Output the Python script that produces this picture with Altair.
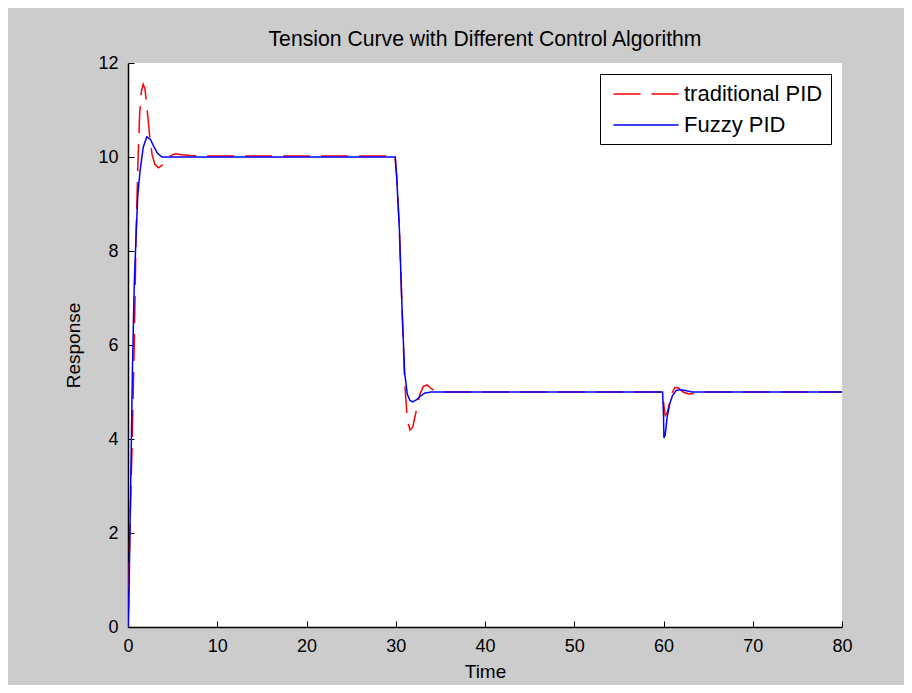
import altair as alt
import pandas as pd

# ---- data ----
t_pid = [0, 0.2, 0.45, 0.7, 0.9, 1.1, 1.3, 1.5, 1.7, 1.9, 2.1, 2.4, 2.7, 3.0, 3.4, 3.8, 4.2,
         4.7, 5.3, 6.0, 7.0, 10, 15, 20, 25, 29.9, 30.1, 30.4, 30.7, 31.0, 31.3, 31.6, 31.9,
         32.3, 32.7, 33.1, 33.5, 34.0, 34.6, 40, 50, 59.9, 60.05, 60.2, 60.4, 60.7, 61.0,
         61.3, 61.7, 62.2, 62.8, 63.5, 64.2, 70, 80]
y_pid = [0, 2.0, 3.8, 6.0, 8.3, 9.8, 10.9, 11.4, 11.55, 11.45, 11.1, 10.5, 10.05, 9.85, 9.77,
         9.82, 9.93, 10.02, 10.07, 10.05, 10.03, 10.02, 10.02, 10.02, 10.02, 10.02, 9.6, 8.5,
         6.8, 5.2, 4.4, 4.19, 4.25, 4.6, 4.95, 5.12, 5.15, 5.07, 5.0, 5.0, 5.0, 5.0, 4.7, 4.5,
         4.55, 4.78, 5.0, 5.1, 5.08, 5.0, 4.96, 4.97, 5.0, 5.0, 5.0]

t_fuzzy = [0, 0.1, 0.3, 0.5, 0.7, 0.9, 1.1, 1.35, 1.7, 2.1, 2.5, 2.9, 3.3, 3.8, 5, 10, 20,
           29.95, 30.1, 30.4, 30.7, 31.0, 31.3, 31.6, 31.9, 32.3, 32.8, 33.3, 34.0, 40, 50,
           59.9, 60.0, 60.05, 60.2, 60.4, 60.7, 61.0, 61.4, 61.8, 62.5, 63.2, 70, 80]
y_fuzzy = [0, 0.6, 3.0, 5.5, 7.3, 8.3, 9.2, 9.7, 10.2, 10.43, 10.38, 10.22, 10.08, 10.0, 10.0,
           10.0, 10.0, 10.0, 9.6, 8.5, 6.8, 5.4, 4.95, 4.82, 4.79, 4.83, 4.92, 4.98, 5.0, 5.0,
           5.0, 5.0, 4.5, 4.02, 4.1, 4.45, 4.75, 4.92, 5.03, 5.05, 5.03, 5.0, 5.0, 5.0]

series_names = ["traditional PID", "Fuzzy PID"]
series_colors = ["#FF0000", "#0000FF"]
x_ticks = [0, 10, 20, 30, 40, 50, 60, 70, 80]
y_ticks = [0, 2, 4, 6, 8, 10, 12]

df_pid = pd.DataFrame({"Time": t_pid, "Response": y_pid, "series": series_names[0]})
df_fuzzy = pd.DataFrame({"Time": t_fuzzy, "Response": y_fuzzy, "series": series_names[1]})
df_all = pd.concat([df_pid, df_fuzzy], ignore_index=True)

FONT = "Liberation Sans"
x_scale = alt.Scale(domain=[0, 80], nice=False, zero=False)
y_scale = alt.Scale(domain=[0, 12], nice=False, zero=False)

legend_def = alt.Legend(
    title=None, orient="top-right", offset=11, fillColor="white",
    strokeColor="black", padding=8, labelFontSize=22, labelFont=FONT,
    labelColor="black", symbolType="M-0.6,0H5.4", symbolSize=470,
    symbolStrokeWidth=1.5, rowPadding=8, labelOffset=52, labelLimit=400,
)
color_enc = alt.Color(
    "series:N",
    scale=alt.Scale(domain=series_names, range=series_colors),
    legend=legend_def,
)
dash_enc = alt.StrokeDash(
    "series:N",
    scale=alt.Scale(domain=series_names, range=[[27, 11], [1, 0]]),
    legend=legend_def,
)

x_main = alt.X("Time:Q", scale=x_scale, axis=alt.Axis(
    values=x_ticks, ticks=False, grid=False, domainColor="black", domainWidth=1.5,
    labelPadding=10, labelFontSize=18, labelFont=FONT, labelColor="black",
    labelFlush=False, labelOverlap=False,
    title="Time", titleFontSize=19, titleFont=FONT, titleFontWeight="normal",
    titleColor="black", titlePadding=7, orient="bottom"))
y_main = alt.Y("Response:Q", scale=y_scale, axis=alt.Axis(
    values=y_ticks, ticks=False, grid=False, domainColor="black", domainWidth=1.5,
    labelPadding=10, labelFontSize=18, labelFont=FONT, labelColor="black",
    labelFlush=False, labelOverlap=False,
    title="Response", titleFontSize=19, titleFont=FONT, titleFontWeight="normal",
    titleColor="black", titlePadding=14, orient="left"))

red = alt.Chart(df_pid).mark_line(strokeWidth=1.5, clip=True).encode(
    x=x_main, y=y_main, color=color_enc, strokeDash=dash_enc)

blue = alt.Chart(df_fuzzy).mark_line(strokeWidth=1.5, clip=True).encode(
    x=alt.X("Time:Q", scale=x_scale, axis=None),
    y=alt.Y("Response:Q", scale=y_scale, axis=None),
    color=color_enc, strokeDash=dash_enc)

inward = alt.Chart(df_all).mark_point(opacity=0).encode(
    x=alt.X("Time:Q", scale=x_scale, axis=alt.Axis(
        orient="bottom", offset=-6, tickSize=6, tickColor="black", values=x_ticks,
        labels=False, domain=False, grid=False, title=None)),
    y=alt.Y("Response:Q", scale=y_scale, axis=alt.Axis(
        orient="left", offset=-6, tickSize=6, tickColor="black", values=y_ticks,
        labels=False, domain=False, grid=False, title=None)),
)

chart = alt.layer(red, blue, inward).resolve_axis(
    x="independent", y="independent"
).properties(
    width=714, height=564,
    title=alt.Title("Tension Curve with Different Control Algorithm", fontSize=21.2,
                    font=FONT, fontWeight="normal", color="black", offset=4,
                    anchor="middle"),
    autosize=alt.AutoSizeParams(type="none"),
    padding={"left": 120, "top": 55, "right": 62, "bottom": 58},
    background="#CCCCCC",
).configure_view(fill="white", stroke=None)

chart.save("out.html", embed_options={"renderer": "svg", "actions": False})
